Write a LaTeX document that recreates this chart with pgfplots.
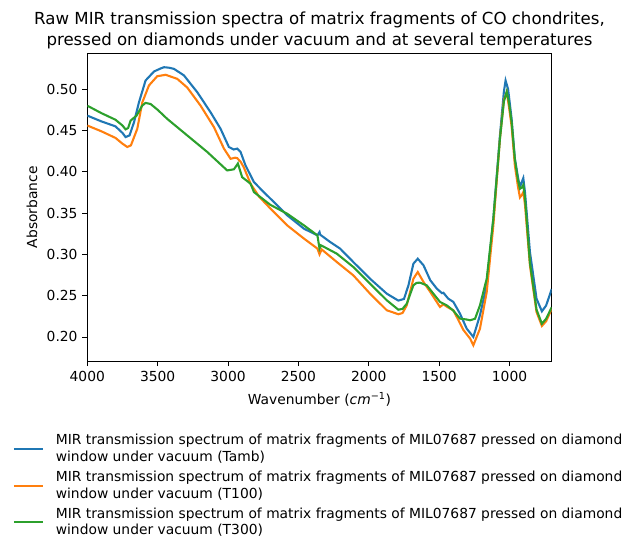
\documentclass[border=0pt]{standalone}
\usepackage{fontspec}
\setmainfont{DejaVu Sans}
\usepackage{pgfplots}
\pgfplotsset{compat=1.18}
\definecolor{tabblue}{HTML}{1F77B4}
\definecolor{taborange}{HTML}{FF7F0E}
\definecolor{tabgreen}{HTML}{2CA02C}
\begin{document}
\begin{tikzpicture}
\path[use as bounding box] (-62.86bp,-139.46bp) rectangle (396.5bp,260.14bp);
\begin{axis}[
  scale only axis, width=334.4bp, height=221.8bp,
  x dir=reverse, xmin=700, xmax=4000, ymin=0.1705, ymax=0.5435,
  xtick={1000,1500,2000,2500,3000,3500,4000},
  ytick={0.20,0.25,0.30,0.35,0.40,0.45,0.50},
  scaled ticks=false,
  /pgf/number format/assume math mode=true,
  /pgf/number format/1000 sep={},
  yticklabel style={/pgf/number format/.cd, fixed, fixed zerofill, precision=2},
  tick align=outside, tick pos=left, major tick length=3.5bp,
  tick style={black, line width=0.6bp},
  axis line style={line width=0.6bp},
  ticklabel style={font=\fontsize{10}{12}\selectfont},
  title={Raw MIR transmission spectra of matrix fragments of CO chondrites,\\pressed on diamonds under vacuum and at several temperatures},
  title style={align=center, font=\fontsize{12}{15}\selectfont, yshift=-6.3bp},
  xlabel={Wavenumber (\textit{cm}\textsuperscript{−1})},
  xlabel style={yshift=-1.2bp},
  ylabel={Absorbance},
  label style={font=\fontsize{10}{12}\selectfont},
  legend style={at={(-0.170,-0.2185)}, anchor=north west, draw=none, fill=none,
    font=\fontsize{10}{12}\selectfont, row sep=1.3bp,
    cells={anchor=west, align=left}},
  legend image code/.code={\draw[#1, line width=1.5bp] (0bp,0bp) -- (21bp,0bp); \path (27.5bp,0bp);},
  every axis plot/.append style={line width=1.5bp},
]
\addplot[color=tabblue, mark=none] coordinates {
(4000,0.468) (3900,0.461) (3800,0.455) (3750,0.447) (3728,0.442) (3700,0.444)
(3668,0.460) (3633,0.484) (3586,0.5105) (3526,0.5214) (3480,0.525) (3455,0.5266)
(3420,0.526) (3384,0.5246) (3313,0.5166) (3219,0.4964) (3124,0.472) (3053,0.452)
(2994,0.430) (2960,0.427) (2935,0.428) (2911,0.424) (2876,0.4077) (2816,0.3875)
(2750,0.376) (2698,0.3673) (2579,0.3472) (2460,0.331) (2365,0.323) (2350,0.327)
(2345,0.3238) (2275,0.315) (2204,0.307) (2110,0.2907) (1991,0.2705) (1872,0.2524)
(1790,0.244) (1750,0.246) (1718,0.2625) (1683,0.2887) (1652,0.2947) (1611,0.2867)
(1563,0.2686) (1516,0.2584) (1480,0.253) (1470,0.2535) (1435,0.2463) (1399,0.2424)
(1352,0.2282) (1304,0.21) (1257,0.200) (1210,0.2263) (1162,0.2625) (1115,0.343)
(1068,0.444) (1040,0.497) (1028,0.5105) (1010,0.500) (985,0.464) (962,0.4157)
(938,0.3915) (926,0.3815) (912,0.388) (902,0.3923) (890,0.375) (855,0.303)
(808,0.2463) (770,0.231) (740,0.238) (700,0.258)
};
\addlegendentry{MIR transmission spectrum of matrix fragments of MIL07687 pressed on diamond\\window under vacuum (Tamb)}
\addplot[color=taborange, mark=none] coordinates {
(4000,0.456) (3900,0.449) (3800,0.441) (3750,0.434) (3716,0.430) (3690,0.432)
(3645,0.452) (3609,0.484) (3562,0.5045) (3503,0.5157) (3443,0.5174) (3361,0.5125)
(3290,0.502) (3195,0.480) (3100,0.454) (3029,0.428) (2982,0.4157) (2950,0.417)
(2935,0.4165) (2910,0.412) (2887,0.405) (2840,0.3855) (2780,0.370) (2698,0.3553)
(2579,0.335) (2460,0.319) (2365,0.307) (2350,0.300) (2335,0.306) (2227,0.2907)
(2110,0.2746) (1991,0.2524) (1872,0.2323) (1790,0.2275) (1760,0.229) (1730,0.2383)
(1683,0.2705) (1652,0.2786) (1611,0.2665) (1563,0.2544) (1494,0.2363) (1470,0.2395)
(1440,0.236) (1399,0.2323) (1328,0.2085) (1280,0.198) (1257,0.190) (1210,0.21)
(1162,0.2544) (1115,0.335) (1068,0.440) (1040,0.487) (1020,0.496) (1005,0.480)
(985,0.455) (962,0.4077) (940,0.382) (926,0.369) (912,0.372) (902,0.3755)
(890,0.360) (855,0.2867) (808,0.2302) (770,0.2133) (740,0.219) (700,0.234)
};
\addlegendentry{MIR transmission spectrum of matrix fragments of MIL07687 pressed on diamond\\window under vacuum (T100)}
\addplot[color=tabgreen, mark=none] coordinates {
(4000,0.480) (3900,0.471) (3800,0.463) (3750,0.456) (3728,0.4513) (3710,0.453)
(3692,0.462) (3650,0.468) (3610,0.480) (3586,0.4834) (3550,0.482) (3500,0.475)
(3432,0.464) (3290,0.444) (3148,0.424) (3006,0.4016) (2958,0.403) (2930,0.410)
(2900,0.3935) (2840,0.3855) (2816,0.3754) (2700,0.360) (2578,0.349) (2460,0.335)
(2365,0.323) (2350,0.307) (2340,0.311) (2227,0.3008) (2110,0.2847) (1991,0.2645)
(1872,0.2444) (1790,0.233) (1760,0.234) (1730,0.2403) (1683,0.2625) (1660,0.2655)
(1636,0.2657) (1588,0.2625) (1541,0.2524) (1494,0.2424) (1446,0.2383) (1400,0.232)
(1352,0.2222) (1300,0.221) (1281,0.2202) (1245,0.222) (1210,0.2383) (1162,0.2705)
(1115,0.343) (1068,0.440) (1040,0.485) (1020,0.497) (1005,0.485) (985,0.460)
(962,0.415) (940,0.390) (926,0.3794) (912,0.381) (902,0.384) (890,0.368)
(855,0.29) (808,0.233) (770,0.216) (740,0.222) (700,0.236)
};
\addlegendentry{MIR transmission spectrum of matrix fragments of MIL07687 pressed on diamond\\window under vacuum (T300)}
\end{axis}
\end{tikzpicture}
\end{document}
